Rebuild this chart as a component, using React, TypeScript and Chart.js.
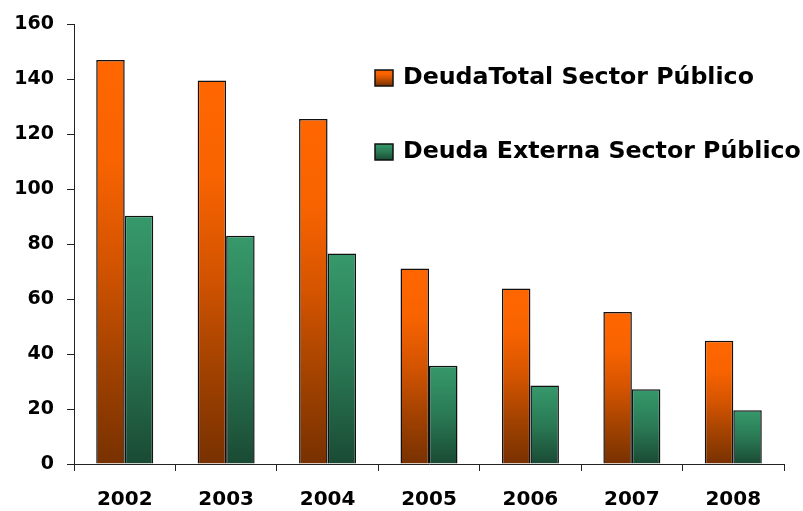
import React, { useEffect, useRef } from "react";
import { Chart, registerables } from "chart.js";

Chart.register(...registerables);

const categories = ["2002", "2003", "2004", "2005", "2006", "2007", "2008"];
const deudaTotal = [147.0, 139.6, 125.6, 71.2, 63.9, 55.3, 44.9];
const deudaExterna = [90.4, 83.1, 76.6, 35.8, 28.6, 27.2, 19.6];
const seriesLabels = ["DeudaTotal Sector Público", "Deuda Externa Sector Público"];

const FONT = "'DejaVu Sans', 'Liberation Sans', Arial, sans-serif";

const orangeStops: [number, string][] = [
  [0, "#FF6600"],
  [0.25, "#F86300"],
  [0.5, "#D45400"],
  [0.75, "#A24200"],
  [1, "#783100"],
];
const greenStops: [number, string][] = [
  [0, "#36996B"],
  [0.5, "#2A7A55"],
  [1, "#1A4A34"],
];

function makeGradient(ctx: CanvasRenderingContext2D, y0: number, y1: number, stops: [number, string][]) {
  const g = ctx.createLinearGradient(0, y0, 0, y1);
  stops.forEach(([o, c]) => g.addColorStop(o, c));
  return g;
}

function barFill(stops: [number, string][]) {
  return (c: any) => {
    const chart = c.chart;
    const { chartArea, scales } = chart;
    if (!chartArea || c.type !== "data" || !scales.y) return stops[0][1];
    const yTop = scales.y.getPixelForValue(c.raw);
    const yBase = scales.y.getPixelForValue(0);
    return makeGradient(chart.ctx, yTop, yBase, stops);
  };
}

const legendPlugin = {
  id: "insideLegend",
  afterDraw(chart: any) {
    const ctx: CanvasRenderingContext2D = chart.ctx;
    const rows = [
      { y: 78, stops: orangeStops },
      { y: 152, stops: greenStops },
    ];
    ctx.save();
    chart.data.datasets.forEach((ds: any, i: number) => {
      const r = rows[i];
      const bx = 375, bw = 18, bh = 16;
      const by = r.y - bh / 2;
      ctx.fillStyle = makeGradient(ctx, by, by + bh, r.stops);
      ctx.fillRect(bx, by, bw, bh);
      ctx.strokeStyle = "#111";
      ctx.lineWidth = 1.5;
      ctx.strokeRect(bx, by, bw, bh);
      ctx.fillStyle = "#000";
      ctx.font = `bold 23.7px ${FONT}`;
      ctx.textBaseline = "middle";
      ctx.textAlign = "left";
      ctx.fillText(ds.label, 403, r.y);
    });
    ctx.restore();
  },
};

export default function App() {
  const ref = useRef<HTMLCanvasElement>(null);

  useEffect(() => {
    document.body.style.margin = "0";
    const canvas = ref.current!;
    const chart = new Chart(canvas, {
      type: "bar",
      data: {
        labels: categories,
        datasets: [
          {
            label: seriesLabels[0],
            data: deudaTotal,
            backgroundColor: barFill(orangeStops),
            borderColor: "#111",
            borderWidth: 1.5,
            categoryPercentage: 0.562,
            barPercentage: 1,
          },
          {
            label: seriesLabels[1],
            data: deudaExterna,
            backgroundColor: barFill(greenStops),
            borderColor: "#111",
            borderWidth: 1.5,
            categoryPercentage: 0.562,
            barPercentage: 1,
          },
        ],
      },
      options: {
        responsive: false,
        animation: false,
        layout: { padding: { top: 22, right: 19, left: 0, bottom: 0 } },
        plugins: {
          legend: { display: false },
          tooltip: { enabled: false },
        },
        scales: {
          x: {
            grid: {
              offset: true,
              drawOnChartArea: false,
              drawTicks: true,
              tickLength: 7,
              color: "#222",
            },
            border: { display: true, color: "#222", width: 1 },
            ticks: {
              color: "#000",
              font: { family: FONT, size: 20, weight: "bold" },
              padding: 17,
              maxRotation: 0,
            },
            afterFit: (s: any) => {
              s.height = 47;
            },
          },
          y: {
            min: 0,
            max: 160,
            ticks: {
              stepSize: 20,
              color: "#000",
              font: { family: FONT, size: 19, weight: "bold" },
              padding: 13,
            },
            grid: {
              drawOnChartArea: false,
              drawTicks: true,
              tickLength: 7,
              color: "#222",
            },
            border: { display: true, color: "#222", width: 1 },
            afterFit: (s: any) => {
              s.width = 74;
            },
          },
        },
      },
      plugins: [legendPlugin],
    });
    return () => chart.destroy();
  }, []);

  return (
    <div style={{ position: "absolute", left: 0, top: 0, width: 803, height: 511, background: "#fff" }}>
      <canvas ref={ref} width={803} height={511} />
    </div>
  );
}
